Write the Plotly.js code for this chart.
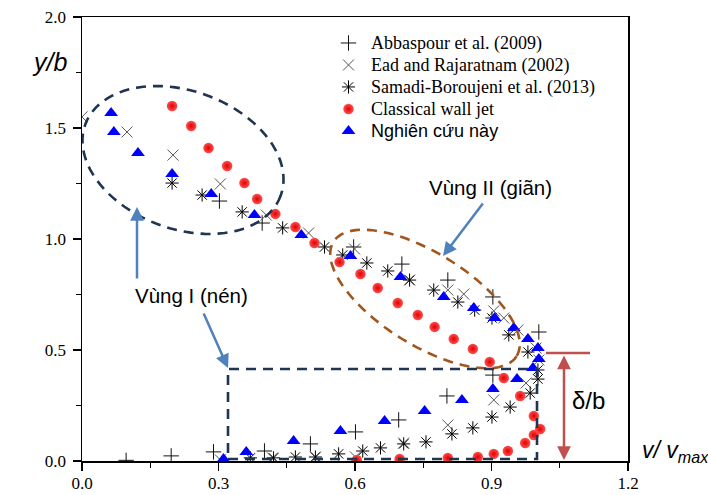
<!DOCTYPE html>
<html>
<head>
<meta charset="utf-8">
<script src="https://cdn.plot.ly/plotly-3.0.1.min.js"></script>
<style>html,body{margin:0;padding:0;background:#fff;}#chart{width:708px;height:495px;}</style>
</head>
<body>
<div id="chart"></div>
<script>
// ---- data ----
const abbX = [0.097,0.196,0.289,0.401,0.502,0.601,0.696,0.802,0.903,1.004,0.903,0.804,0.703,0.597,0.396,0.302];
const abbY = [0.003,0.023,0.041,0.045,0.077,0.131,0.185,0.293,0.387,0.581,0.739,0.815,0.887,0.964,1.072,1.171];

const eadX = [0.0,0.099,0.200,0.304,0.405,0.498,0.599,0.720,0.804,0.839,0.905,0.927,0.958,0.998,1.004,0.976,0.905,0.804,0.707,0.601,0.513,0.419,0.304];
const eadY = [1.550,1.482,1.378,1.248,1.108,1.027,0.955,0.815,0.770,0.752,0.676,0.644,0.590,0.509,0.455,0.351,0.275,0.162,0.081,0.018,0.018,0.014,0.005];

const samX = [0.370,0.421,0.469,0.513,0.564,0.617,0.656,0.707,0.756,0.813,0.859,0.901,0.941,0.985,1.002,1.002,0.980,0.938,0.901,0.863,0.826,0.773,0.720,0.672,0.626,0.573,0.533,0.441,0.352,0.264,0.198];
const samY = [0.014,0.014,0.018,0.018,0.032,0.045,0.059,0.077,0.086,0.122,0.149,0.198,0.243,0.306,0.369,0.410,0.491,0.568,0.644,0.680,0.716,0.770,0.815,0.856,0.892,0.928,0.964,1.050,1.122,1.198,1.252];

const cwjX = [0.198,0.240,0.278,0.319,0.357,0.385,0.425,0.469,0.511,0.566,0.612,0.650,0.694,0.738,0.775,0.817,0.859,0.896,0.927,0.963,0.993,1.007,0.993,0.974,0.936,0.905,0.870,0.804,0.698,0.604];
const cwjY = [1.599,1.509,1.410,1.329,1.252,1.180,1.113,1.054,0.982,0.896,0.842,0.779,0.712,0.658,0.604,0.550,0.505,0.446,0.374,0.293,0.203,0.144,0.117,0.081,0.045,0.032,0.018,0.014,0.009,0.005];

const nccX = [0.064,0.070,0.123,0.198,0.284,0.379,0.482,0.590,0.700,0.795,0.861,0.907,0.949,0.980,1.002,1.004,0.991,0.956,0.903,0.835,0.753,0.665,0.568,0.465,0.361,0.311];
const nccY = [1.568,1.482,1.387,1.293,1.203,1.108,1.018,0.923,0.829,0.739,0.689,0.644,0.599,0.550,0.509,0.459,0.419,0.369,0.324,0.275,0.225,0.180,0.135,0.090,0.041,0.009];

const names = ['Abbaspour et al. (2009)','Ead and Rajaratnam (2002)','Samadi-Boroujeni et al. (2013)','Classical wall jet','Nghiên cứu này'];
const xTicks = [0.0,0.3,0.6,0.9,1.2];
const yTicks = [0.0,0.5,1.0,1.5,2.0];

// ---- geometry helpers (plot area: x 82..628, y 17..461 px) ----
const L=82, T=17, W=546, H=444, XMAX=1.2, YMAX=2.0;
const dx = px => (px-L)/W*XMAX;
const dy = py => (T+H-py)/H*YMAX;
const paperX = px => (px-L)/W;
const paperY = py => (T+H-py)/H;
function ellipsePath(cx,cy,a,b,angDeg){
  const th=angDeg*Math.PI/180, n=90; let s='';
  for(let i=0;i<=n;i++){
    const t=2*Math.PI*i/n, u=a*Math.cos(t), v=b*Math.sin(t);
    const x=cx+u*Math.cos(th)-v*Math.sin(th), y=cy+u*Math.sin(th)+v*Math.cos(th);
    s += (i===0?'M ':' L ')+dx(x).toFixed(4)+' '+dy(y).toFixed(4);
  }
  return s+' Z';
}

const serif='Liberation Serif, Times New Roman, serif';
const sans='Liberation Sans, Arial, sans-serif';
const lgSpan = (t,f) => '<span style="font-size:18px;font-family:'+f+'">'+t+'</span>';

const traces = [
  {x:abbX,y:abbY,name:lgSpan(names[0],serif),mode:'markers',type:'scatter',
   marker:{symbol:'cross-thin-open',size:11,color:'#111',line:{width:1,color:'#111'}}},
  {x:eadX,y:eadY,name:lgSpan(names[1],serif),mode:'markers',type:'scatter',
   marker:{symbol:'x-thin-open',size:11,color:'#555',line:{width:1,color:'#555'}}},
  {x:samX,y:samY,name:lgSpan(names[2],serif),mode:'markers',type:'scatter',
   marker:{symbol:'asterisk-open',size:11,color:'#000',line:{width:1,color:'#000'}}},
  {x:cwjX,y:cwjY,name:lgSpan(names[3],serif),mode:'markers',type:'scatter',
   marker:{symbol:'circle',size:10.5,color:'#ff5050',gradient:{type:'radial',color:'#e00000'},line:{width:0}}},
  {x:nccX,y:nccY,name:lgSpan(names[4],sans),mode:'markers',type:'scatter',
   marker:{symbol:'triangle-up',size:12,color:'#0000ff',line:{width:0}}}
];

const navy='#1f3550', brown='#a0561c', steel='#4f81bd', brick='#c0504d';
const ann = (px,py,text,size) => ({xref:'paper',yref:'paper',x:paperX(px),y:paperY(py),xanchor:'center',yanchor:'middle',
  text:text,showarrow:false,font:{family:sans,size:size,color:'#000'}});
const arrow = (hx,hy,ax,ay,color,both) => ({xref:'paper',yref:'paper',x:paperX(hx),y:paperY(hy),text:'',showarrow:true,
  ax:ax,ay:ay,arrowhead:2,arrowsize:1.1,arrowwidth:2.5,arrowcolor:color,standoff:0,startstandoff:0,
  arrowside: both ? 'end+start' : 'end'});

const layout = {
  width:708, height:495,
  margin:{l:L,r:708-L-W,t:T,b:495-T-H,pad:0},
  paper_bgcolor:'#fff', plot_bgcolor:'#fff',
  showlegend:true,
  legend:{x:paperX(326),y:paperY(27),xanchor:'left',yanchor:'top',bgcolor:'rgba(0,0,0,0)',
          font:{family:serif,size:14.6,color:'#000'},itemwidth:35,tracegroupgap:0},
  xaxis:{range:[0,XMAX],tickvals:xTicks,ticktext:xTicks.map(v=>v.toFixed(1)),ticks:'outside',ticklen:8,tickwidth:1.2,
         tickcolor:'#000',showline:true,linecolor:'#000',linewidth:1.5,mirror:true,showgrid:false,zeroline:false,
         tickfont:{family:serif,size:17,color:'#000'},ticklabelstandoff:-2,
         minor:{tickvals:[0.15,0.45,0.75,1.05],ticks:'outside',ticklen:5,tickwidth:1.2,tickcolor:'#000',showgrid:false}},
  yaxis:{range:[0,YMAX],tickvals:yTicks,ticktext:yTicks.map(v=>v.toFixed(1)),ticks:'outside',ticklen:8,tickwidth:1.2,
         tickcolor:'#000',showline:true,linecolor:'#000',linewidth:1.5,mirror:true,showgrid:false,zeroline:false,
         tickfont:{family:serif,size:17,color:'#000'},ticklabelstandoff:3,
         minor:{tickvals:[0.25,0.75,1.25,1.75],ticks:'outside',ticklen:5,tickwidth:1.2,tickcolor:'#000',showgrid:false}},
  shapes:[
    {type:'path',xref:'x',yref:'y',path:ellipsePath(183,160,104,69,20),line:{color:navy,width:2.6,dash:'10px,7px'}},
    {type:'path',xref:'x',yref:'y',path:ellipsePath(425,299,108,46,32),line:{color:brown,width:2.6,dash:'10px,7px'}},
    {type:'rect',xref:'x',yref:'y',x0:dx(228),x1:dx(537),y0:dy(459),y1:dy(369),line:{color:navy,width:2.6,dash:'10px,7px'}},
    {type:'line',xref:'paper',yref:'paper',x0:paperX(546),x1:paperX(590),y0:paperY(353),y1:paperY(353),line:{color:brick,width:2.5}}
  ],
  annotations:[
    ann(49,62,'<i>y/b</i>',25),
    ann(675,451,'<i>v/ v</i><sub><i>max</i></sub>',23),
    ann(191,295,'Vùng I (nén)',20.5),
    ann(490,188,'Vùng II (giãn)',20.5),
    ann(588,400,'δ/b',24),
    arrow(137,207,0,73,steel,false),
    arrow(228,368,-25,-56,steel,false),
    arrow(443,256,41,-54,steel,false),
    arrow(564,460,0,-106,brick,true)
  ]
};

Plotly.newPlot('chart', traces, layout, {staticPlot:true,displayModeBar:false});
</script>
</body>
</html>
